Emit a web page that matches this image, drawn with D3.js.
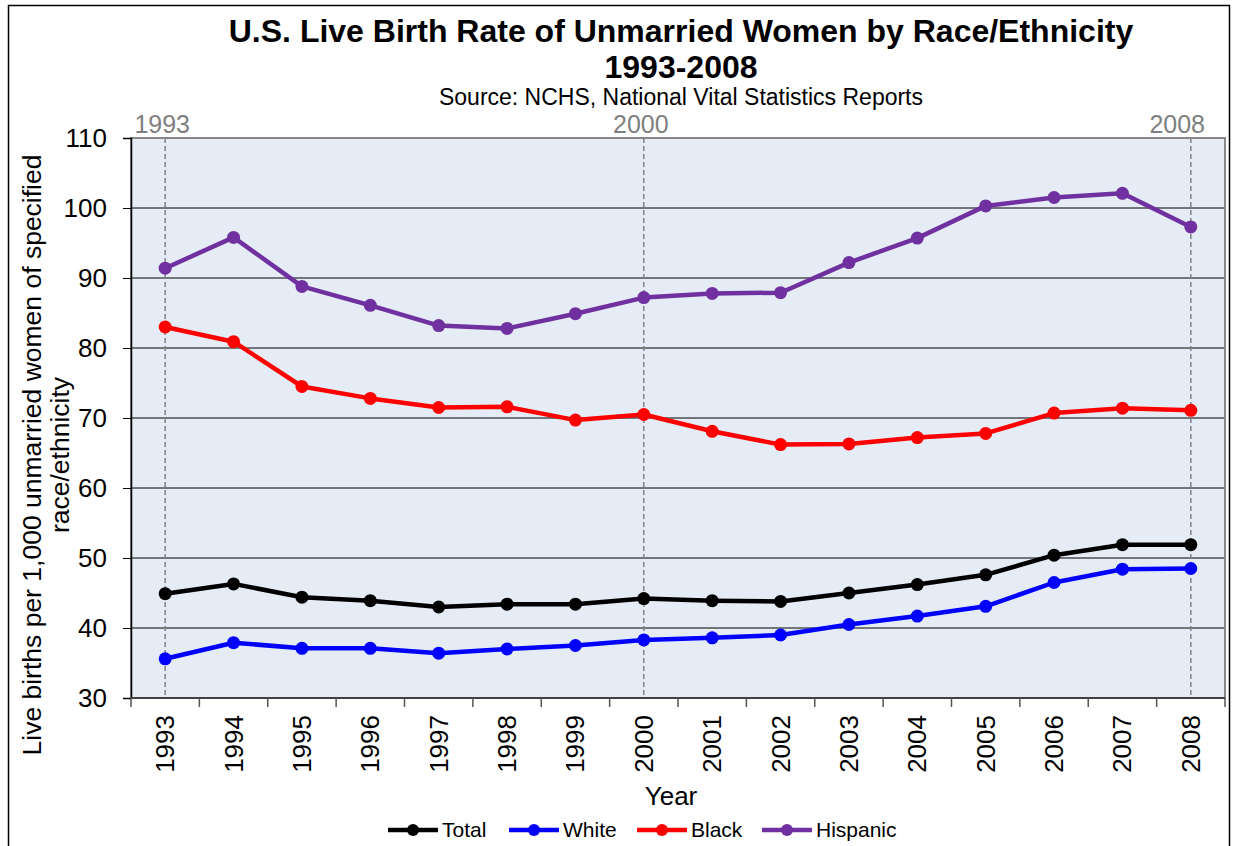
<!DOCTYPE html>
<html>
<head>
<meta charset="utf-8">
<script src="https://cdn.jsdelivr.net/npm/d3@7"></script>
<style>
  body { margin: 0; background: #fff; }
  svg { font-family: "Liberation Sans", Arial, sans-serif; }
</style>
</head>
<body>
<div id="chart"></div>
<script>
// data
var years = ["1993", "1994", "1995", "1996", "1997", "1998", "1999", "2000",
             "2001", "2002", "2003", "2004", "2005", "2006", "2007", "2008"];
var total = [44.9, 46.3, 44.4, 43.9, 43.0, 43.4, 43.4, 44.2, 43.9, 43.8, 45.0, 46.2, 47.6, 50.4, 51.9, 51.9];
var white = [35.6, 37.9, 37.1, 37.1, 36.4, 37.0, 37.5, 38.3, 38.6, 39.0, 40.5, 41.7, 43.1, 46.5, 48.4, 48.5];
var black = [83.0, 80.9, 74.5, 72.8, 71.5, 71.6, 69.7, 70.5, 68.1, 66.2, 66.3, 67.2, 67.8, 70.7, 71.4, 71.1];
var hispanic = [91.4, 95.8, 88.8, 86.1, 83.2, 82.8, 84.9, 87.2, 87.8, 87.9, 92.2, 95.7, 100.3, 101.5, 102.1, 97.3];
var yTicks = [30, 40, 50, 60, 70, 80, 90, 100, 110];
var markedYears = ["1993", "2000", "2008"];

var seriesNames = ["Total", "White", "Black", "Hispanic"];
var seriesColors = ["#000000", "#0000FF", "#FF0000", "#7030A0"];
var seriesValues = [total, white, black, hispanic];

var W = 1233, H = 846;
var margin = {top: 138, right: 8, bottom: 148, left: 131};
var width = W - margin.left - margin.right,
    height = H - margin.top - margin.bottom;

var svg = d3.select("#chart").append("svg")
  .attr("width", W)
  .attr("height", H);

// outer frame
svg.append("rect")
  .attr("x", 8.5).attr("y", 5.5)
  .attr("width", W - 12).attr("height", H)
  .attr("fill", "#fff")
  .attr("stroke", "#000")
  .attr("stroke-width", 1.5);

// titles
svg.append("text")
  .attr("x", 681).attr("y", 42)
  .attr("text-anchor", "middle")
  .attr("font-size", 32).attr("font-weight", "bold")
  .text("U.S. Live Birth Rate of Unmarried Women by Race/Ethnicity");
svg.append("text")
  .attr("x", 681).attr("y", 78)
  .attr("text-anchor", "middle")
  .attr("font-size", 32).attr("font-weight", "bold")
  .text("1993-2008");
svg.append("text")
  .attr("x", 681).attr("y", 105)
  .attr("text-anchor", "middle")
  .attr("font-size", 23)
  .text("Source: NCHS, National Vital Statistics Reports");

var g = svg.append("g")
  .attr("transform", "translate(" + margin.left + "," + margin.top + ")");

var x = d3.scaleBand()
  .domain(years)
  .range([0, width]);
var y = d3.scaleLinear()
  .domain([30, 110])
  .range([height, 0]);

function cx(d) { return x(d) + x.bandwidth() / 2; }

// plot background
g.append("rect")
  .attr("width", width).attr("height", height)
  .attr("fill", "#E5ECF6");

// horizontal grid
g.selectAll(".grid")
  .data(yTicks.slice(1, -1))
  .enter().append("line")
  .attr("class", "grid")
  .attr("x1", 0).attr("x2", width)
  .attr("y1", function(d) { return y(d); })
  .attr("y2", function(d) { return y(d); })
  .attr("stroke", "#000")
  .attr("stroke-width", 1);

// dashed year markers
g.selectAll(".marker")
  .data(markedYears)
  .enter().append("line")
  .attr("class", "marker")
  .attr("x1", cx).attr("x2", cx)
  .attr("y1", 0).attr("y2", height)
  .attr("stroke", "#808080")
  .attr("stroke-width", 1.5)
  .attr("stroke-dasharray", "5,3");

// plot border
g.append("rect")
  .attr("width", width).attr("height", height)
  .attr("fill", "none")
  .attr("stroke", "#888")
  .attr("stroke-width", 2);

// top year labels
g.selectAll(".toplabel")
  .data(markedYears)
  .enter().append("text")
  .attr("class", "toplabel")
  .attr("x", function(d, i) { return i == 2 ? width - 20 : cx(d) - 3; })
  .attr("y", -5)
  .attr("text-anchor", function(d, i) { return i == 2 ? "end" : "middle"; })
  .attr("font-size", 25)
  .attr("fill", "#7F7F7F")
  .text(function(d) { return d; });

// y axis
var yAxis = g.append("g")
  .call(d3.axisLeft(y).tickValues(yTicks).tickSize(8).tickPadding(16));
yAxis.select(".domain").attr("stroke", "#000").attr("stroke-width", 1.5);
yAxis.selectAll(".tick line").attr("stroke", "#000");
yAxis.selectAll("text").attr("font-size", 26).attr("fill", "#000")
  .attr("font-family", "Liberation Sans, Arial, sans-serif");

// x axis: ticks at band edges
var xAxis = g.append("g")
  .attr("transform", "translate(0," + height + ")");
xAxis.append("line")
  .attr("x1", 0).attr("x2", width)
  .attr("stroke", "#404040").attr("stroke-width", 2);
xAxis.selectAll(".xtick")
  .data(years.concat(["end"]))
  .enter().append("line")
  .attr("class", "xtick")
  .attr("x1", function(d, i) { return i * x.bandwidth(); })
  .attr("x2", function(d, i) { return i * x.bandwidth(); })
  .attr("y1", 0).attr("y2", 9)
  .attr("stroke", "#555").attr("stroke-width", 1.5);
xAxis.selectAll(".xlabel")
  .data(years)
  .enter().append("text")
  .attr("class", "xlabel")
  .attr("transform", function(d) { return "translate(" + (cx(d) + 9) + ",17) rotate(-90)"; })
  .attr("text-anchor", "end")
  .attr("font-size", 26)
  .text(function(d) { return d; });

// axis titles
svg.append("text")
  .attr("x", 671).attr("y", 805)
  .attr("text-anchor", "middle")
  .attr("font-size", 26)
  .text("Year");
var yTitle = svg.append("text")
  .attr("transform", "translate(41,455) rotate(-90)")
  .attr("text-anchor", "middle")
  .attr("font-size", 26.5);
yTitle.append("tspan").attr("x", 0).attr("dy", 0)
  .text("Live births per 1,000 unmarried women of specified");
yTitle.append("tspan").attr("x", 0).attr("dy", 28)
  .text("race/ethnicity");

// series
var line = d3.line()
  .x(function(d, i) { return cx(years[i]); })
  .y(function(d) { return y(d); });

seriesValues.forEach(function(vals, k) {
  g.append("path")
    .datum(vals)
    .attr("fill", "none")
    .attr("stroke", seriesColors[k])
    .attr("stroke-width", 4.5)
    .attr("stroke-linejoin", "round")
    .attr("d", line);
  g.selectAll(".pt" + k)
    .data(vals)
    .enter().append("circle")
    .attr("class", "pt" + k)
    .attr("cx", function(d, i) { return cx(years[i]); })
    .attr("cy", function(d) { return y(d); })
    .attr("r", 6.5)
    .attr("fill", seriesColors[k]);
});

// legend
var legendX = [388, 509, 637, 762];
var legend = svg.append("g").attr("transform", "translate(0,830)");
seriesNames.forEach(function(name, k) {
  var lg = legend.append("g").attr("transform", "translate(" + legendX[k] + ",0)");
  lg.append("line")
    .attr("x1", 0).attr("x2", 50)
    .attr("stroke", seriesColors[k]).attr("stroke-width", 4.5);
  lg.append("circle")
    .attr("cx", 25).attr("r", 6)
    .attr("fill", seriesColors[k]);
  lg.append("text")
    .attr("x", 54).attr("y", 7)
    .attr("font-size", 21)
    .text(name);
});
</script>
</body>
</html>
